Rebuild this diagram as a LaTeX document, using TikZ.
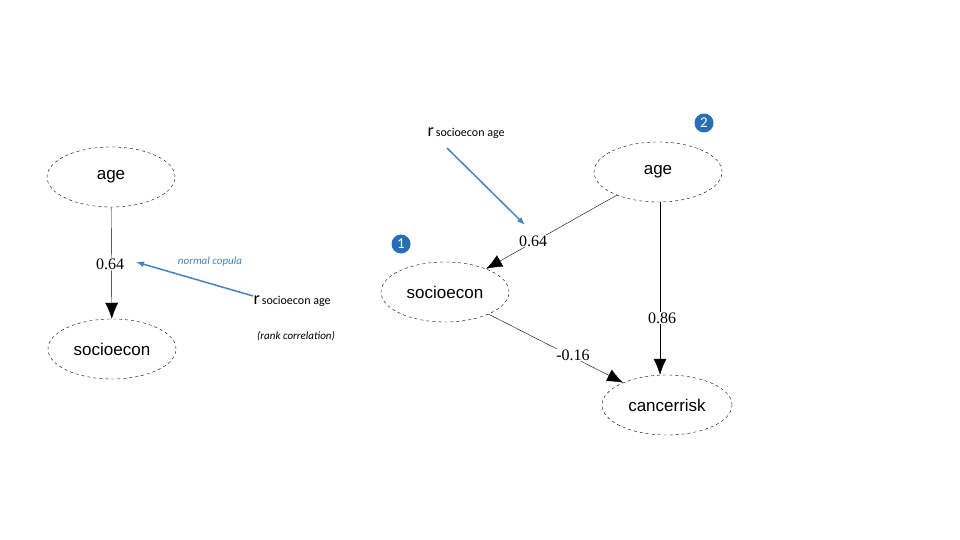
\documentclass[tikz,border=0pt]{standalone}
\usepackage{fontspec}
\setmainfont{Liberation Serif}
\setsansfont{Liberation Sans}
\newfontfamily\calib{Carlito}
\usetikzlibrary{arrows.meta,shapes.geometric,positioning}
\definecolor{copblue}{RGB}{70,130,190}
\definecolor{badge}{RGB}{40,110,180}
\begin{document}
\begin{tikzpicture}
[x=1pt,y=-1pt,
var/.style={draw,dashed,ellipse,minimum width=128pt,minimum height=60pt,font=\sffamily\fontsize{17}{17}\selectfont},
path/.style={draw,thin,-{Latex[length=16pt,width=13pt]}},
coef/.style={fill=white,inner sep=1pt,font=\fontsize{16}{16}\selectfont},
rlab/.style={font=\calib\fontsize{12}{12}\selectfont},
blue/.style={draw=copblue,line width=1.5pt,-{Latex[length=8pt,width=6pt]}},
num/.style={circle,fill=badge,text=white,inner sep=1pt,minimum size=19pt,font=\calib\fontsize{15}{15}\selectfont}]
\useasboundingbox (0,0) rectangle (960,540);

% left model
\node (age1) [var] at (111,177) {age};
\node (soc1) [var] at (112,349) {socioecon};
\draw [path] (age1) -- (soc1);
\node (c0) [coef] at (110,264) {0.64};
\node (cop) [text=copblue,font=\calib\itshape\fontsize{11}{11}\selectfont] at (210,262) {normal copula};
\node (r1) [rlab,anchor=west] at (250,301) {{\fontsize{18}{18}\selectfont r}\,socioecon age};
\node (rank) [font=\calib\itshape\fontsize{11}{11}\selectfont] at (296,336) {(rank correlation)};
\coordinate (r1tip) at (136,262);
\draw [blue] (r1.west) ++(3,-5) -- (r1tip);

% right model
\node (age2) [var] at (658,172) {age};
\node (soc2) [var] at (445,292) {socioecon};
\node (can) [var,minimum width=130pt] at (667,405) {cancerrisk};
\draw [path] (age2) -- (soc2);
\node (c1) [coef] at (533,241) {0.64};
\draw [path] (age2.south) ++(2,0) coordinate (a2s) -- (a2s |- can.north);
\node (c2) [coef] at (662,318) {0.86};
\draw [path] (soc2) -- (can);
\node (c3) [coef] at (573,355) {-0.16};
\node (r2) [rlab,anchor=west] at (424,133) {{\fontsize{18}{18}\selectfont r}\,socioecon age};
\coordinate (r2tip) at (525,225);
\coordinate (r2tail) at (447,148);
\draw [blue] (r2tail) -- (r2tip);

\node (n1) [num] at (401,244) {1};
\node (n2) [num] at (704,123) {2};
\end{tikzpicture}
\end{document}
